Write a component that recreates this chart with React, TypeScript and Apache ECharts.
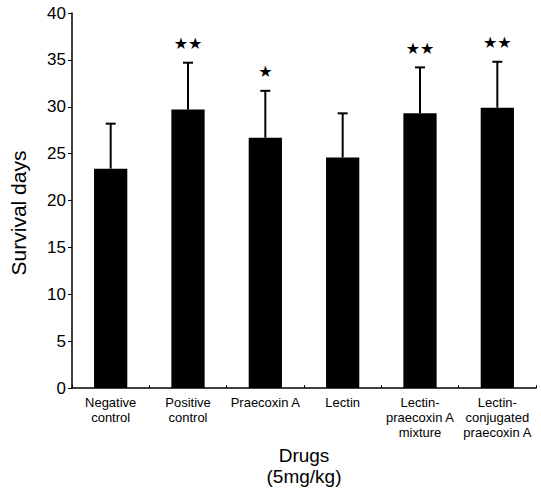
import React, { useEffect, useRef } from "react";
import * as echarts from "echarts";

const categories = [
  "Negative\ncontrol",
  "Positive\ncontrol",
  "Praecoxin A",
  "Lectin",
  "Lectin-\npraecoxin A\nmixture",
  "Lectin-\nconjugated\npraecoxin A",
];
const means = [23.4, 29.7, 26.7, 24.6, 29.3, 29.9];
const errorTops = [28.2, 34.7, 31.7, 29.3, 34.2, 34.8];
const marks = ["", "★★", "★", "", "★★", "★★"];
const yTicks = [0, 5, 10, 15, 20, 25, 30, 35, 40];
const yTitle = "Survival days";
const xTitle = "Drugs\n(5mg/kg)";

export default function App() {
  const ref = useRef<HTMLDivElement>(null);
  useEffect(() => {
    if (!ref.current) return;
    const chart = echarts.init(ref.current, null, { renderer: "svg" });
    const font = "'Liberation Sans', Arial, sans-serif";
    chart.setOption({
      animation: false,
      grid: { left: 72, right: 5, top: 13, bottom: 101, containLabel: false },
      graphic: [
        {
          type: "text",
          x: 18,
          y: 213,
          rotation: Math.PI / 2,
          style: {
            text: yTitle,
            align: "center",
            verticalAlign: "middle",
            fill: "#000",
            font: "21px 'Liberation Sans', Arial, sans-serif",
          },
        },
      ],
      xAxis: {
        type: "category",
        data: categories,
        axisLine: { lineStyle: { color: "#000", width: 1.5 } },
        axisTick: { show: true, inside: true, length: 3, lineStyle: { color: "#000" } },
        axisLabel: {
          color: "#000",
          fontFamily: font,
          fontSize: 13,
          lineHeight: 15,
          margin: 7,
          interval: 0,
        },
        name: xTitle,
        nameLocation: "middle",
        nameGap: 55,
        nameTextStyle: { color: "#000", fontFamily: font, fontSize: 19, lineHeight: 21 },
      },
      yAxis: {
        type: "value",
        min: 0,
        max: 40,
        interval: 5,
        splitLine: { show: false },
        axisLine: { show: true, lineStyle: { color: "#000", width: 1.5 } },
        axisTick: { show: true, inside: false, length: 4, lineStyle: { color: "#000" } },
        axisLabel: {
          color: "#000",
          fontFamily: font,
          fontSize: 17,
          margin: 6,
          formatter: (v: number) => (yTicks.includes(v) ? String(v) : ""),
        },
      },
      series: [
        {
          type: "bar",
          data: means,
          barWidth: "43%",
          itemStyle: { color: "#000" },
          z: 2,
        },
        {
          type: "custom",
          z: 3,
          data: means.map((m, i) => [i, m, errorTops[i]]),
          renderItem: (params: any, api: any) => {
            const i = api.value(0);
            const top = api.coord([i, api.value(2)]);
            const base = api.coord([i, api.value(1)]);
            const x = top[0];
            const children: any[] = [
              {
                type: "line",
                shape: { x1: x, y1: base[1], x2: x, y2: top[1] },
                style: { stroke: "#000", lineWidth: 2 },
              },
              {
                type: "line",
                shape: { x1: x - 5, y1: top[1], x2: x + 5, y2: top[1] },
                style: { stroke: "#000", lineWidth: 2 },
              },
            ];
            const mark = marks[i];
            if (mark) {
              children.push({
                type: "text",
                style: {
                  text: mark,
                  x: x,
                  y: top[1] - 19,
                  align: "center",
                  verticalAlign: "middle",
                  fill: "#000",
                  font: "bold 16px 'DejaVu Sans', sans-serif",
                },
              });
            }
            return { type: "group", children };
          },
        },
      ],
    });
    return () => chart.dispose();
  }, []);
  return (
    <div
      ref={ref}
      style={{ position: "absolute", left: 0, top: 0, width: 541, height: 492 }}
    />
  );
}
